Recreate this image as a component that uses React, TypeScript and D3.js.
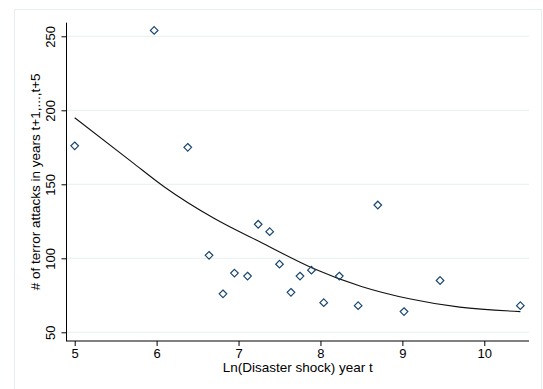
import React, { useEffect, useRef } from 'react';
import { select, scaleLinear, axisLeft, axisBottom, line, curveMonotoneX, format } from 'd3';

// Ln(disaster shock) in year t and terror attacks over t+1..t+5
const disasterShock = [5.0, 5.97, 6.38, 6.64, 6.81, 6.95, 7.11, 7.24, 7.38, 7.5, 7.64, 7.75, 7.89, 8.04, 8.23, 8.46, 8.7, 9.02, 9.46, 10.44];
const terrorAttacks = [176, 254, 175, 102, 76, 90, 88, 123, 118, 96, 77, 88, 92, 70, 88, 68, 136, 64, 85, 68];
// fitted values
const fitX = [5.0, 5.7, 6.1, 6.7, 7.3, 7.9, 8.5, 9.1, 9.7, 10.44];
const fitY = [195, 165, 148, 127, 110, 93.5, 81, 72.5, 67, 64];
const xTicks = [5, 6, 7, 8, 9, 10];
const yTicks = [50, 100, 150, 200, 250];

const W = 543;
const H = 389;
const FONT = '"Liberation Sans", Arial, Helvetica, sans-serif';
const FS = '13px';
const MARKER = '#1a476f';
const GRID = '#e6eff1';

export default function App() {
  const svgRef = useRef<SVGSVGElement>(null);

  useEffect(() => {
    const svg = select(svgRef.current);
    svg.selectAll('*').remove();

    const x = scaleLinear().domain([5, 10]).range([74.7, 484.3]);
    const y = scaleLinear().domain([50, 250]).range([332.3, 36.3]);
    const left = 66.5;
    const right = 529;
    const top = 22.7;
    const bottom = 341;

    svg
      .append('rect')
      .attr('x', 0)
      .attr('y', 0)
      .attr('width', W)
      .attr('height', H)
      .attr('fill', '#fff');
    svg
      .append('rect')
      .attr('x', 14.5)
      .attr('y', 9.5)
      .attr('width', 527)
      .attr('height', 400)
      .attr('fill', 'none')
      .attr('stroke', GRID);

    // gridlines
    svg
      .append('g')
      .selectAll('line')
      .data(yTicks)
      .join('line')
      .attr('x1', left)
      .attr('x2', right)
      .attr('y1', (d) => y(d))
      .attr('y2', (d) => y(d))
      .attr('stroke', GRID)
      .attr('stroke-width', 1);

    // fitted values
    svg
      .append('path')
      .datum(fitX.map((d, i) => [d, fitY[i]]))
      .attr('fill', 'none')
      .attr('stroke', '#111')
      .attr('stroke-width', 1.1)
      .attr(
        'd',
        line<number[]>()
          .x((d) => x(d[0]))
          .y((d) => y(d[1]))
          .curve(curveMonotoneX)
      );

    // scatter points
    const r = 3.8;
    svg
      .append('g')
      .selectAll('path')
      .data(disasterShock.map((d, i) => [d, terrorAttacks[i]]))
      .join('path')
      .attr('transform', (d) => `translate(${x(d[0])},${y(d[1])})`)
      .attr('d', `M0,${-r}L${r},0L0,${r}L${-r},0Z`)
      .attr('fill', 'none')
      .attr('stroke', MARKER)
      .attr('stroke-width', 1.2);

    // y axis
    const yAxis = svg
      .append('g')
      .attr('transform', `translate(${left},0)`)
      .call(axisLeft(y).tickValues(yTicks).tickFormat(format('d')).tickSize(5).tickSizeOuter(0))
      .call((g) => g.select('.domain').remove());
    yAxis.selectAll('.tick line').attr('stroke', '#000');
    yAxis
      .selectAll('.tick text')
      .attr('x', null)
      .attr('dy', null)
      .attr('text-anchor', 'middle')
      .attr('transform', 'translate(-11.5,0) rotate(-90)')
      .attr('fill', '#000')
      .style('font-family', FONT)
      .style('font-size', FS);
    svg
      .append('line')
      .attr('x1', left)
      .attr('x2', left)
      .attr('y1', top)
      .attr('y2', bottom)
      .attr('stroke', '#000');

    // x axis
    const xAxis = svg
      .append('g')
      .attr('transform', `translate(0,${bottom})`)
      .call(axisBottom(x).tickValues(xTicks).tickFormat(format('d')).tickSize(5).tickSizeOuter(0))
      .call((g) => g.select('.domain').remove());
    xAxis.selectAll('.tick line').attr('stroke', '#000');
    xAxis
      .selectAll('.tick text')
      .attr('y', 17)
      .attr('dy', null)
      .attr('fill', '#000')
      .style('font-family', FONT)
      .style('font-size', FS);
    svg
      .append('line')
      .attr('x1', left - 0.5)
      .attr('x2', right)
      .attr('y1', bottom)
      .attr('y2', bottom)
      .attr('stroke', '#000');

    // titles
    svg
      .append('text')
      .attr('x', (left + right) / 2)
      .attr('y', 372)
      .attr('text-anchor', 'middle')
      .style('font-family', FONT)
      .style('font-size', '13.5px')
      .text('Ln(Disaster shock) year t');
    svg
      .append('text')
      .attr('transform', `translate(40,${(top + bottom) / 2}) rotate(-90)`)
      .attr('text-anchor', 'middle')
      .style('font-family', FONT)
      .style('font-size', '13.5px')
      .text('# of terror attacks in years t+1,...,t+5');
  }, []);

  return (
    <svg
      ref={svgRef}
      width={W}
      height={H}
      style={{ position: 'absolute', left: 0, top: 0, display: 'block' }}
    />
  );
}
